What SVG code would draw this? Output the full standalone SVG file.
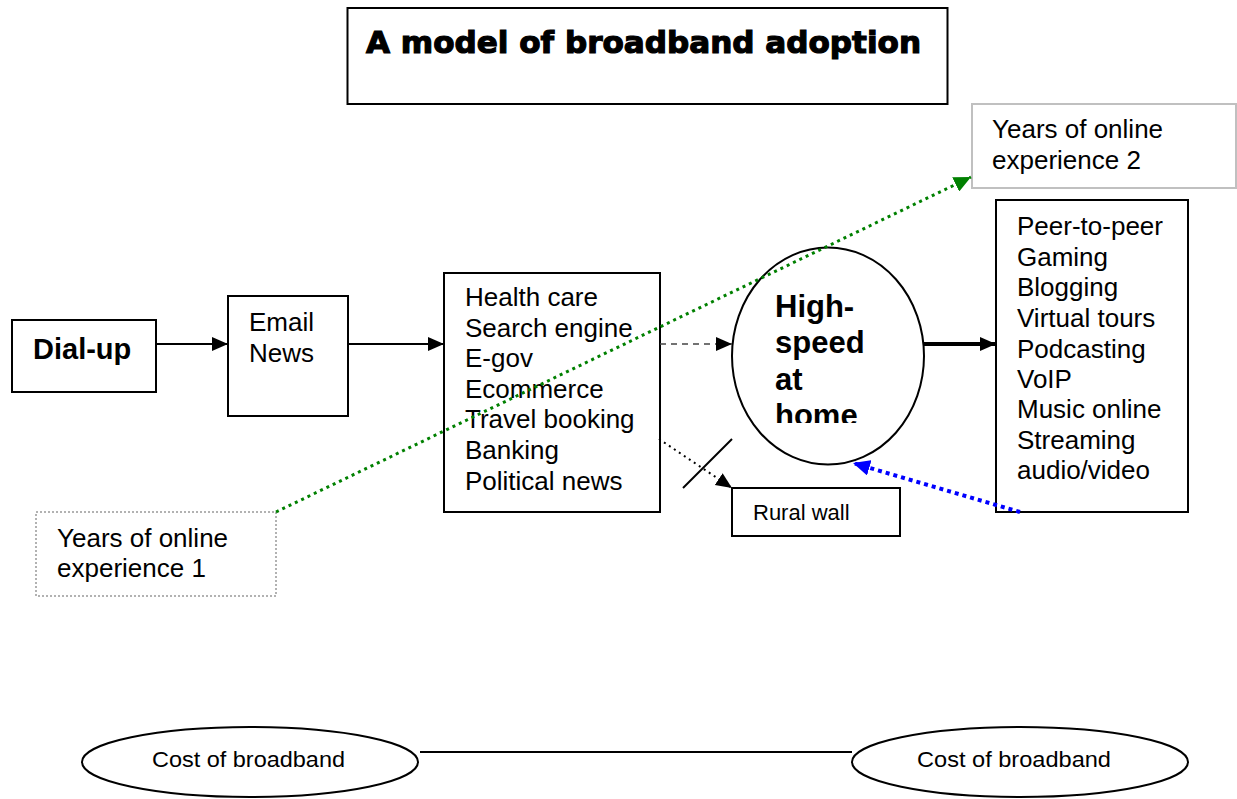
<svg xmlns="http://www.w3.org/2000/svg" width="1237" height="799" viewBox="0 0 1237 799">
<style>
.box{fill:#fff;stroke:#000;stroke-width:2}
.t{font-family:"Liberation Sans",Arial,sans-serif;font-size:26px;fill:#000}
.b{font-family:"Liberation Sans",Arial,sans-serif;font-weight:bold;fill:#000}
.s{font-family:"Liberation Sans",Arial,sans-serif;font-size:22px;fill:#000}
</style>
<defs>
<marker id="ab" markerUnits="userSpaceOnUse" markerWidth="16" markerHeight="16" refX="16" refY="8" orient="auto"><path d="M0,1 L16,8 L0,15 z" fill="#000"/></marker>
<marker id="ag" markerUnits="userSpaceOnUse" markerWidth="18" markerHeight="16" refX="17" refY="8" orient="auto"><path d="M0,0 L17,8 L0,16 z" fill="#008000"/></marker>
<marker id="al" markerUnits="userSpaceOnUse" markerWidth="18" markerHeight="16" refX="17" refY="8" orient="auto"><path d="M0,0 L17,8 L0,16 z" fill="#0000ff"/></marker>
<clipPath id="clipHome"><rect x="730" y="240" width="200" height="183"/></clipPath>
</defs>
<rect width="1237" height="799" fill="#fff"/>

<g id="title">
<rect class="box" x="347.5" y="8" width="600" height="96"/>
<text x="366" y="53" font-family="'DejaVu Sans',sans-serif" font-weight="bold" font-size="31" stroke="#000" stroke-width="1.2" textLength="555" lengthAdjust="spacingAndGlyphs">A model of broadband adoption</text>
</g>

<g id="dialup">
<rect class="box" x="12" y="320" width="144" height="72"/>
<text class="b" x="33" y="359" font-size="29">Dial-up</text>
</g>

<g id="email">
<rect class="box" x="228" y="296" width="120" height="120"/>
<text class="t" x="249" y="331">Email</text>
<text class="t" x="249" y="362">News</text>
</g>

<g id="services">
<rect class="box" x="444" y="273" width="216" height="239"/>
<text class="t" x="465"><tspan x="465" y="306">Health care</tspan><tspan x="465" y="337">Search engine</tspan><tspan x="465" y="367">E-gov</tspan><tspan x="465" y="398">Ecommerce</tspan><tspan x="465" y="428">Travel booking</tspan><tspan x="465" y="459">Banking</tspan><tspan x="465" y="490">Political news</tspan></text>
</g>

<g id="highspeed">
<ellipse cx="828" cy="356" rx="96" ry="108.5" fill="#fff" stroke="#000" stroke-width="2"/>
<g clip-path="url(#clipHome)">
<text class="b" font-size="31"><tspan x="775" y="317">High-</tspan><tspan x="775" y="353.3">speed</tspan><tspan x="775" y="389.6">at</tspan><tspan x="775" y="426">home</tspan></text>
</g>
</g>

<g id="apps">
<rect class="box" x="996" y="200" width="192" height="312"/>
<text class="t"><tspan x="1017" y="235">Peer-to-peer</tspan><tspan x="1017" y="266">Gaming</tspan><tspan x="1017" y="296">Blogging</tspan><tspan x="1017" y="327">Virtual tours</tspan><tspan x="1017" y="358">Podcasting</tspan><tspan x="1017" y="388">VoIP</tspan><tspan x="1017" y="418">Music online</tspan><tspan x="1017" y="449">Streaming</tspan><tspan x="1017" y="479">audio/video</tspan></text>
</g>

<g id="years2">
<rect x="972" y="104" width="264" height="84" fill="#fff" stroke="#c0c0c0" stroke-width="2"/>
<text class="t"><tspan x="992" y="138">Years of online</tspan><tspan x="992" y="169">experience 2</tspan></text>
</g>

<g id="years1">
<rect x="36" y="512" width="240" height="84" fill="#fff" stroke="#999" stroke-width="1.5" stroke-dasharray="2 2"/>
<text class="t"><tspan x="57" y="547">Years of online</tspan><tspan x="57" y="577">experience 1</tspan></text>
</g>

<g id="ruralwall">
<rect class="box" x="732" y="488" width="168" height="48"/>
<text x="753" y="520" font-family="'Liberation Sans',Arial,sans-serif" font-size="22">Rural wall</text>
</g>

<g id="cost1">
<ellipse cx="250" cy="762" rx="168" ry="35" fill="#fff" stroke="#000" stroke-width="2"/>
<text class="s" x="152" y="767" textLength="193" lengthAdjust="spacingAndGlyphs">Cost of broadband</text>
</g>

<g id="cost2">
<ellipse cx="1020" cy="762" rx="168" ry="35" fill="#fff" stroke="#000" stroke-width="2"/>
<text class="s" x="917" y="767" textLength="194" lengthAdjust="spacingAndGlyphs">Cost of broadband</text>
</g>

<g id="connectors" fill="none">
<line x1="156" y1="344" x2="228" y2="344" stroke="#000" stroke-width="2" marker-end="url(#ab)"/>
<line x1="348" y1="344" x2="444" y2="344" stroke="#000" stroke-width="2" marker-end="url(#ab)"/>
<line x1="660" y1="344" x2="732" y2="344" stroke="#444" stroke-width="1.5" stroke-dasharray="6 5" marker-end="url(#ab)"/>
<line x1="924" y1="344" x2="996" y2="344" stroke="#000" stroke-width="4" marker-end="url(#ab)"/>
<line x1="276" y1="512" x2="971" y2="177" stroke="#008000" stroke-width="3" stroke-dasharray="3 4" marker-end="url(#ag)"/>
<line x1="1020" y1="512" x2="853" y2="463" stroke="#0000ff" stroke-width="4" stroke-dasharray="4 4" marker-end="url(#al)"/>
<line x1="659" y1="439" x2="732" y2="488" stroke="#000" stroke-width="2" stroke-dasharray="2 4" marker-end="url(#ab)"/>
<line x1="683" y1="488" x2="732" y2="439" stroke="#000" stroke-width="2"/>
<line x1="420" y1="752" x2="852" y2="752" stroke="#000" stroke-width="2"/>
</g>
</svg>
